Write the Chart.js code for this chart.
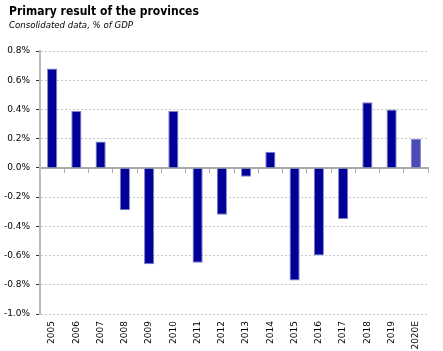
<!DOCTYPE html>
<html>
<head>
<meta charset="utf-8">
<script src="https://cdn.jsdelivr.net/npm/chart.js@4"></script>
<style>
  body { margin: 0; background: #fff; }
  #wrap { width: 443px; height: 351px; position: relative; }
  #title { position: absolute; left: 9px; top: 4px; font: bold 12px 'DejaVu Sans Condensed', 'DejaVu Sans', sans-serif; color: #000; }
  #subtitle { position: absolute; left: 9px; top: 20px; font: italic 8.6px 'DejaVu Sans', sans-serif; color: #000; }
</style>
</head>
<body>
<div id="wrap">
  <canvas id="chart"></canvas>
  <div id="title">Primary result of the provinces</div>
  <div id="subtitle">Consolidated data, % of GDP</div>
</div>
<script>
// data
const years = ["2005", "2006", "2007", "2008", "2009", "2010", "2011", "2012",
  "2013", "2014", "2015", "2016", "2017", "2018", "2019", "2020E"];
const primaryResult = [0.68, 0.39, 0.18, -0.29, -0.66, 0.39, -0.65, -0.32,
  -0.06, 0.11, -0.77, -0.60, -0.35, 0.45, 0.40, 0.20];
const yTicks = [-1.0, -0.8, -0.6, -0.4, -0.2, 0.0, 0.2, 0.4, 0.6, 0.8];

const font = "'DejaVu Sans', Verdana, sans-serif";
const barColors = years.map(y => y.endsWith("E") ? "#4b4bb8" : "#000099");

new Chart(document.getElementById("chart"), {
  type: "bar",
  data: {
    labels: years,
    datasets: [{
      data: primaryResult,
      backgroundColor: barColors,
      borderColor: "#8080cc",
      borderWidth: 1,
      barPercentage: 0.42,
      categoryPercentage: 1
    }]
  },
  options: {
    responsive: true,
    maintainAspectRatio: false,
    animation: false,
    layout: { padding: { left: 3, right: 15, top: 51, bottom: 0 } },
    plugins: {
      legend: { display: false },
      tooltip: { enabled: false }
    },
    scales: {
      x: {
        afterFit: axis => { axis.height = 37; },
        grid: { display: false, drawTicks: false },
        border: { display: false },
        ticks: {
          color: "#000",
          font: { family: font, size: 9 },
          minRotation: 90,
          maxRotation: 90,
          padding: 7
        }
      },
      zero: {
        axis: "x",
        type: "category",
        position: { y: 0 },
        offset: true,
        afterFit: axis => { axis.height = 0; },
        grid: { offset: true, drawOnChartArea: false, tickLength: 4, color: "#aaa", tickWidth: 1 },
        border: { color: "#aaa", width: 2 },
        ticks: { display: false }
      },
      y: {
        min: -1.0,
        max: 0.8,
        afterBuildTicks: axis => { axis.ticks = yTicks.map(v => ({ value: v })); },
        afterFit: axis => { axis.width = 37; },
        grid: {
          color: ctx => ctx.tick && ctx.tick.value === 0 ? "rgba(0,0,0,0)" : "#c8c8c8",
          tickColor: "#333",
          tickLength: 4
        },
        border: { color: "#bbb", width: 2, dash: [2, 2] },
        ticks: {
          color: "#000",
          font: { family: font, size: 9 },
          padding: 6,
          callback: v => v.toFixed(1) + "%"
        }
      }
    }
  }
});
</script>
</body>
</html>
